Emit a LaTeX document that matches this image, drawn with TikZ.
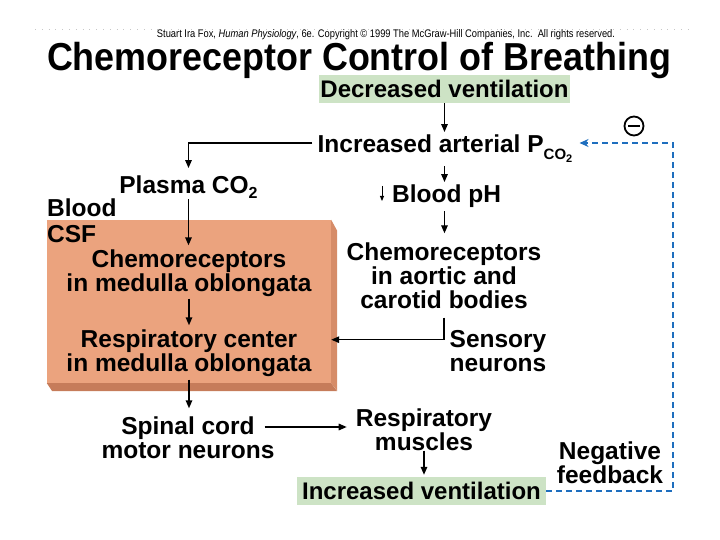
\documentclass[tikz,border=0pt]{standalone}
\usepackage{fontspec}
\setmainfont{Liberation Sans}
\newfontfamily\titlefont[FakeStretch=0.92]{Liberation Sans}
\newfontfamily\narrowfont[FakeStretch=0.85]{Liberation Sans}
\usetikzlibrary{arrows.meta}
\definecolor{salmon}{RGB}{235,163,126}
\definecolor{salmonside}{RGB}{214,140,104}
\definecolor{salmonbot}{RGB}{198,124,90}
\definecolor{mint}{RGB}{205,227,197}
\definecolor{fbblue}{RGB}{30,110,190}
\tikzset{
  lab/.style={font=\bfseries\fontsize{24.5}{24}\selectfont, inner sep=0pt},
  mlab/.style={lab, align=center},
  greenbox/.style={fill=mint, font=\bfseries\fontsize{24}{24}\selectfont, inner sep=0pt, minimum height=28pt},
  arr/.style={-{Triangle[length=8pt,width=6.5pt]}, line width=1.4pt},
  smallarr/.style={-{Triangle[length=5pt,width=4pt]}, line width=0.9pt},
  fb/.style={fbblue, line width=1.4pt, dash pattern=on 6pt off 4pt},
  fbtip/.style={-{Stealth[length=9pt,width=8pt]}}
}
\begin{document}
\begin{tikzpicture}[x=1pt,y=-1pt]
\useasboundingbox (0,0) rectangle (720,540);
% faint dotted rule at the top
\draw[black!22, line width=0.7pt, dash pattern=on 0.8pt off 6pt] (35,29) -- (690,29);

% copyright and title
\node[inner sep=0pt, anchor=base] (copy) at (386,38)
  {\resizebox{458pt}{!}{\narrowfont\fontsize{10}{10}\selectfont Stuart Ira Fox, \textit{Human Physiology}, 6e. Copyright \textcopyright\ 1999 The McGraw-Hill Companies, Inc.\ \ All rights reserved.}};
\node[inner sep=0pt, anchor=base] (title) at (359,71)
  {\titlefont\bfseries\fontsize{39}{39}\selectfont Chemoreceptor Control of Breathing};

% salmon (CSF / medulla) box with extruded edges
\node[fill=salmon, inner sep=0pt, minimum width=284pt, minimum height=163pt] (box) at (189,301.5) {};
\fill[salmonside] (box.north east) -- ++(6,11) -- ++(0,160) -- (box.south east) -- cycle;
\fill[salmonbot] (box.south west) -- (box.south east) -- ++(6,8) -- ++(-285,0) -- cycle;

% green boxes
\node[greenbox, minimum width=251pt] (dec) at (444.5,89) {Decreased ventilation};
\node[greenbox, minimum width=249pt] (incv) at (421.5,491) {Increased ventilation};

% labels
\node[lab, anchor=base] (inc) at (445,153)
  {Increased arterial P\raisebox{-7pt}{\fontsize{15}{15}\selectfont CO\raisebox{-3pt}{\fontsize{11}{11}\selectfont 2}}};
\node[lab, anchor=base] (plasma) at (188.5,194) {Plasma CO\raisebox{-5pt}{\fontsize{16}{16}\selectfont 2}};
\node[lab, anchor=base west] (blood) at (47,217) {Blood};
\node[lab, anchor=base west] (csf) at (47,242) {CSF};
\node[lab, anchor=base west] (bph) at (392,203) {Blood pH};
\node[mlab, anchor=north] (chemoL) at (189,249.3) {Chemoreceptors\\in medulla oblongata};
\node[mlab, anchor=north] (respC) at (189,329.3) {Respiratory center\\in medulla oblongata};
\node[mlab, anchor=north] (chemoR) at (444,242.3) {Chemoreceptors\\in aortic and\\carotid bodies};
\node[mlab, anchor=north] (sens) at (498,330) {Sensory\\neurons};
\node[mlab, anchor=north] (spinal) at (188,416.3) {Spinal cord\\motor neurons};
\node[mlab, anchor=north] (musc) at (424,408.3) {Respiratory\\muscles};
\node[mlab, anchor=north] (neg) at (610,441.3) {Negative\\feedback};

% negative sign
\node[circle, draw, line width=1.8pt, minimum size=19pt, inner sep=0pt] (minus) at (634,126) {};
\draw[line width=2pt] ([xshift=-6pt]minus.center) -- ([xshift=6pt]minus.center);

% connectors
\draw[arr, shorten >=3pt] (dec.south) -- (dec.south |- inc.north);
\draw[arr, shorten >=8pt] ([xshift=-5pt,yshift=10pt]inc.base west) -| (plasma.north);
\draw[arr, shorten >=3pt] (inc.south -| dec.south) ++(0,3) -- (dec.south |- bph.north);
\draw[smallarr] ([xshift=-10pt,yshift=17pt]bph.base west) -- ([xshift=-10pt,yshift=2pt]bph.base west);
\draw[arr, shorten <=3pt, shorten >=9pt] (dec.south |- bph.south) -- (dec.south |- chemoR.north);
\draw[arr, shorten >=4pt] (plasma.south) -- (plasma.south |- chemoL.north);
\draw[arr, shorten <=2pt, shorten >=4pt] (chemoL.south) -- (chemoL.south |- respC.north);
\draw[arr, shorten <=3pt, shorten >=8pt] (respC.south) -- (respC.south |- spinal.north);
\draw[arr] ([yshift=-9pt]chemoR.south) -- ++(0,22) coordinate (turn) -- (turn -| box.east);
\draw[arr, shorten >=9pt] ([xshift=-10pt,yshift=-10.7pt]spinal.north east) coordinate (s1) -- (s1 -| musc.west);
\draw[arr, shorten >=2pt] (musc.south) -- (musc.south |- incv.north);

% negative feedback loop
\coordinate (fbx) at (673,0);
\coordinate (inct) at ([xshift=7pt,yshift=10pt]inc.base east);
\draw[fb] (incv.east) -| (fbx |- inct) -- ([xshift=6pt]inct);
\draw[fbblue, fbtip, line width=1.4pt] ([xshift=7pt]inct) -- (inct);
\end{tikzpicture}
\end{document}
